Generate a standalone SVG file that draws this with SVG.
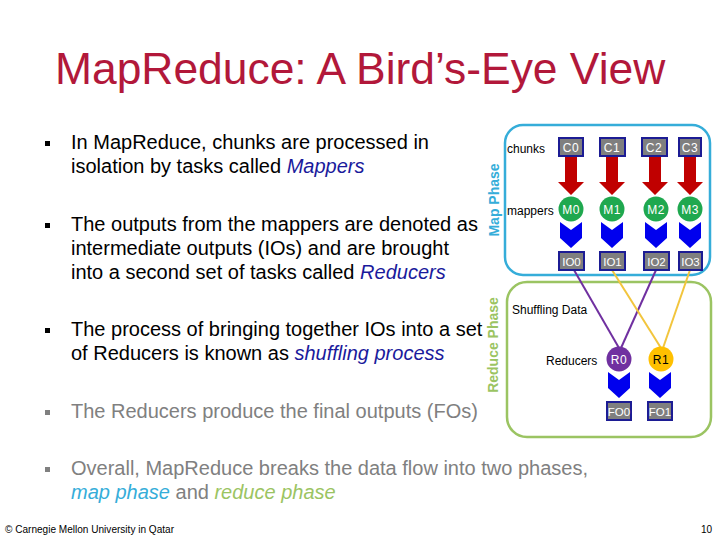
<svg xmlns="http://www.w3.org/2000/svg" width="720" height="540" viewBox="0 0 720 540">
<style>
.t{font-family:"Liberation Sans",Arial,sans-serif}
.title{font-size:44.4px;fill:#B2183A}
.b{font-size:20px;fill:#000}
.g{fill:#808080}
.em{font-style:italic;fill:#1A1A9C}
.lbl{font-size:12px;fill:#000}
.box{fill:#7F7F7F;stroke:#1C1C94;stroke-width:2}
.bt{font-size:12px;fill:#fff;text-anchor:middle;letter-spacing:0.5px}
.bt2{font-size:11.5px;fill:#fff;text-anchor:middle}
.ct{font-size:12px;text-anchor:middle;letter-spacing:0.5px}
.red{fill:#C00000}
.chev{fill:#0000EE}
.ph{font-size:14px;font-weight:bold;text-anchor:middle}
</style>
<defs>
<path id="arr" d="M-6,0 H6 V25 H13 L0,38 L-13,25 H-6 Z"/>
<path id="chv" d="M-11,0 L0,8 L11,0 V16 L0,26 L-11,16 Z"/>
<rect id="bul" width="5" height="5"/>
</defs>
<rect width="720" height="540" fill="#fff"/>
<text class="t title" x="55" y="84">MapReduce: A Bird’s-Eye View</text>

<g id="bullets" class="t b">
<use href="#bul" x="45" y="141" fill="#000"/>
<text x="71" y="149">In MapReduce, chunks are processed in</text>
<text x="71" y="173">isolation by tasks called <tspan class="em">Mappers</tspan></text>
<use href="#bul" x="45" y="223" fill="#000"/>
<text x="71" y="231">The outputs from the mappers are denoted as</text>
<text x="71" y="255">intermediate outputs (IOs) and are brought</text>
<text x="71" y="279">into a second set of tasks called <tspan class="em">Reducers</tspan></text>
<use href="#bul" x="45" y="328" fill="#000"/>
<text x="71" y="336">The process of bringing together IOs into a set</text>
<text x="71" y="360">of Reducers is known as <tspan class="em">shuffling process</tspan></text>
<use href="#bul" x="45" y="410" fill="#808080"/>
<text x="71" y="418" class="g">The Reducers produce the final outputs (FOs)</text>
<use href="#bul" x="45" y="467" fill="#808080"/>
<text x="71" y="475" class="g">Overall, MapReduce breaks the data flow into two phases,</text>
<text x="71" y="499" class="g"><tspan style="font-style:italic;fill:#35ADD9">map phase</tspan> and <tspan style="font-style:italic;fill:#9BC462">reduce phase</tspan></text>
</g>

<g id="map-phase">
<rect x="505" y="125" width="205" height="150" rx="18" fill="none" stroke="#35ADD9" stroke-width="2.5"/>
<text class="t ph" transform="translate(499,200) rotate(-90)" fill="#35ADD9">Map Phase</text>
<text class="t lbl" x="507" y="153">chunks</text>
<text class="t lbl" x="507" y="215">mappers</text>
</g>
<g id="reduce-phase">
<rect x="507" y="282" width="204" height="155" rx="20" fill="none" stroke="#9BC462" stroke-width="2.5"/>
<text class="t ph" transform="translate(498,345) rotate(-90)" fill="#9BC462">Reduce Phase</text>
<text class="t lbl" x="512" y="314">Shuffling Data</text>
<text class="t lbl" x="546" y="365">Reducers</text>
</g>

<g id="connectors" stroke-width="2" fill="none">
<line x1="574" y1="270" x2="619" y2="348" stroke="#7030A0"/>
<line x1="656" y1="270" x2="621" y2="348" stroke="#7030A0"/>
<line x1="612" y1="270" x2="661" y2="348" stroke="#F2C53D"/>
<line x1="690" y1="270" x2="663" y2="348" stroke="#F2C53D"/>
<use href="#arr" x="571" y="157" class="red" stroke="none"/>
<use href="#arr" x="612" y="157" class="red" stroke="none"/>
<use href="#arr" x="655" y="157" class="red" stroke="none"/>
<use href="#arr" x="690" y="157" class="red" stroke="none"/>
<use href="#chv" x="571" y="222" class="chev" stroke="none"/>
<use href="#chv" x="612" y="222" class="chev" stroke="none"/>
<use href="#chv" x="656" y="222" class="chev" stroke="none"/>
<use href="#chv" x="690" y="222" class="chev" stroke="none"/>
<use href="#chv" x="619" y="372" class="chev" stroke="none"/>
<use href="#chv" x="660" y="372" class="chev" stroke="none"/>
</g>

<g id="C0"><rect class="box" x="559" y="138" width="24" height="18"/><text class="t bt" x="571" y="152">C0</text></g>
<g id="C1"><rect class="box" x="600" y="138" width="25" height="18"/><text class="t bt" x="612" y="152">C1</text></g>
<g id="C2"><rect class="box" x="642" y="138" width="25" height="18"/><text class="t bt" x="654" y="152">C2</text></g>
<g id="C3"><rect class="box" x="679" y="138" width="22" height="18"/><text class="t bt" x="690" y="152">C3</text></g>

<g id="M0"><circle cx="571" cy="209" r="12.5" fill="#1FA84F"/><text class="t ct" x="571" y="213.5" fill="#fff">M0</text></g>
<g id="M1"><circle cx="612" cy="209" r="12.5" fill="#1FA84F"/><text class="t ct" x="612" y="213.5" fill="#fff">M1</text></g>
<g id="M2"><circle cx="656" cy="209" r="12.5" fill="#1FA84F"/><text class="t ct" x="656" y="213.5" fill="#fff">M2</text></g>
<g id="M3"><circle cx="690" cy="209" r="12.5" fill="#1FA84F"/><text class="t ct" x="690" y="213.5" fill="#fff">M3</text></g>

<g id="IO0"><rect class="box" x="559" y="252" width="25" height="18"/><text class="t bt2" x="571.5" y="265.5">IO0</text></g>
<g id="IO1"><rect class="box" x="600" y="252" width="25" height="18"/><text class="t bt2" x="612.5" y="265.5">IO1</text></g>
<g id="IO2"><rect class="box" x="644" y="252" width="25" height="18"/><text class="t bt2" x="656.5" y="265.5">IO2</text></g>
<g id="IO3"><rect class="box" x="679" y="252" width="23" height="18"/><text class="t bt2" x="690.5" y="265.5">IO3</text></g>

<g id="R0"><circle cx="619" cy="359" r="12.5" fill="#7030A0"/><text class="t ct" x="619" y="363.5" fill="#fff">R0</text></g>
<g id="R1"><circle cx="661" cy="359" r="12.5" fill="#FFC000"/><text class="t ct" x="661" y="363.5" fill="#000">R1</text></g>

<g id="FO0"><rect class="box" x="607" y="402" width="24" height="18"/><text class="t bt2" x="619" y="415.5">FO0</text></g>
<g id="FO1"><rect class="box" x="648" y="402" width="24" height="18"/><text class="t bt2" x="660" y="415.5">FO1</text></g>

<g id="footer" class="t">
<text x="5" y="533" font-size="10" textLength="169" lengthAdjust="spacingAndGlyphs">© Carnegie Mellon University in Qatar</text>
<text x="712" y="533" font-size="10" text-anchor="end">10</text>
</g>
</svg>
